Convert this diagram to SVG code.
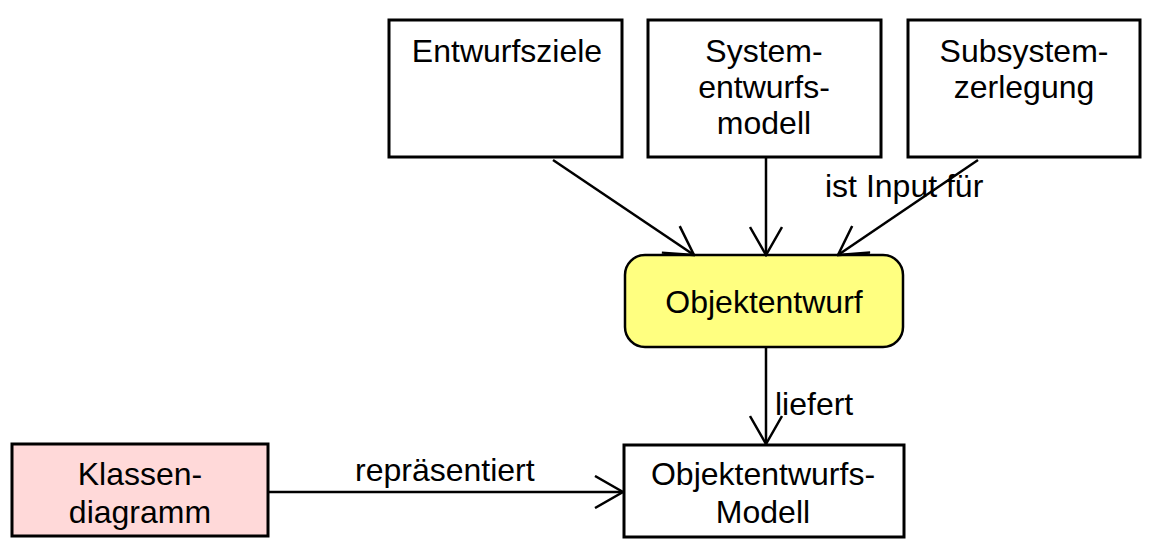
<svg xmlns="http://www.w3.org/2000/svg" width="1156" height="552" viewBox="0 0 1156 552">
<style>
.box{fill:#ffffff;stroke:#000;stroke-width:3}
.t{font-family:"Liberation Sans",Arial,sans-serif;font-size:32px;fill:#000;text-anchor:middle}
.l{font-family:"Liberation Sans",Arial,sans-serif;font-size:32px;fill:#000}
.c{stroke:#000;stroke-width:2.5;fill:none}
</style>
<defs>
<marker id="arr" viewBox="0 0 34 34" refX="32" refY="17" markerWidth="34" markerHeight="34" markerUnits="userSpaceOnUse" orient="auto">
<path d="M4,1 L32,17 L4,33" fill="none" stroke="#000" stroke-width="2.5"/>
</marker>
</defs>
<rect width="1156" height="552" fill="#ffffff"/>
<g id="entwurfsziele">
<rect class="box" x="389" y="20" width="233" height="137"/>
<text class="t" x="507" y="62">Entwurfsziele</text>
</g>
<g id="systementwurfsmodell">
<rect class="box" x="648" y="20" width="233" height="137"/>
<text class="t" x="764" y="62">System-</text>
<text class="t" x="764" y="98">entwurfs-</text>
<text class="t" x="764" y="134">modell</text>
</g>
<g id="subsystemzerlegung">
<rect class="box" x="908" y="20" width="232" height="137"/>
<text class="t" x="1024" y="62">Subsystem-</text>
<text class="t" x="1024" y="98">zerlegung</text>
</g>
<g id="objektentwurf">
<rect x="625" y="255" width="278" height="92" rx="20" ry="20" fill="#ffff80" stroke="#000" stroke-width="2.5"/>
<text class="t" x="764" y="313">Objektentwurf</text>
</g>
<g id="klassendiagramm">
<rect x="12" y="444" width="256" height="92" fill="#ffd9d9" stroke="#000" stroke-width="3"/>
<text class="t" x="140" y="485">Klassen-</text>
<text class="t" x="140" y="523">diagramm</text>
</g>
<g id="objektentwurfsmodell">
<rect class="box" x="624" y="445" width="280" height="92"/>
<text class="t" x="763" y="485">Objektentwurfs-</text>
<text class="t" x="763" y="523">Modell</text>
</g>
<g id="connectors">
<line class="c" x1="553" y1="160" x2="694" y2="255" marker-end="url(#arr)"/>
<line class="c" x1="766" y1="158" x2="766" y2="255" marker-end="url(#arr)"/>
<line class="c" x1="978" y1="160" x2="838" y2="255" marker-end="url(#arr)"/>
<line class="c" x1="766" y1="348" x2="766" y2="444" marker-end="url(#arr)"/>
<line class="c" x1="269" y1="492" x2="623" y2="492" marker-end="url(#arr)"/>
<text class="l" x="825" y="197">ist Input für</text>
<text class="l" x="775" y="415">liefert</text>
<text class="l" x="355" y="481">repräsentiert</text>
</g>
</svg>
